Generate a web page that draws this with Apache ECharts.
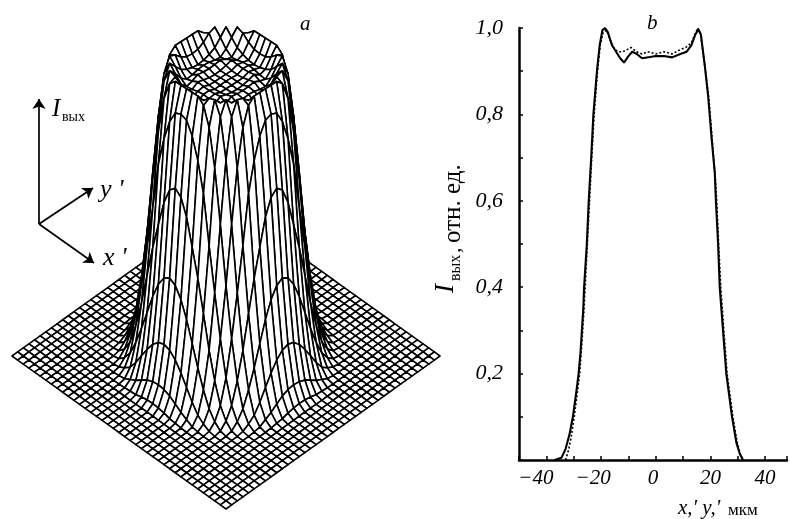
<!DOCTYPE html>
<html><head><meta charset="utf-8">
<style>html,body{margin:0;padding:0;background:#fff}#c{width:790px;height:519px}</style>
<script src="https://cdn.jsdelivr.net/npm/echarts@6/dist/echarts.min.js"></script>
</head><body><div id="c"></div>
<script>
// Panel b: measured profile (solid) and second profile (dotted)
var solidX = [-37,-34.5,-33,-31.5,-30.3,-29.2,-28.2,-27.5,-27,-26.5,-26.2,-25.2,-24.5,-23.6,-22.8,-21.5,-20.5,-19.5,-18.5,-17.5,-16,-14.5,-13,-11.6,-10,-8.6,-7,-5,-2,0,3,6,9,11.3,13,14.5,15.6,16.5,18,19.2,20.5,21.6,22,22.8,23.4,24.6,25.8,27.9,29.5,30.7,31.9];
var solidI = [0,0.005,0.025,0.06,0.1,0.15,0.2,0.25,0.3,0.35,0.4,0.5,0.6,0.7,0.8,0.9,0.96,0.995,1,0.99,0.96,0.945,0.93,0.92,0.935,0.945,0.94,0.93,0.933,0.935,0.935,0.932,0.94,0.945,0.96,0.985,0.997,0.985,0.91,0.84,0.74,0.664,0.6,0.5,0.4,0.3,0.2,0.1,0.04,0.015,0];
var dottedX = [-33,-32,-31,-29.8,-28.8,-27.8,-27,-26.4,-25.8,-25,-24.2,-23.4,-22.5,-21.3,-20.3,-19.2,-18,-16.5,-15,-13.5,-12,-10.5,-9,-7,-5,-3,0,3,6,9,11,13,14.3,15.4,16.4,18.2,19.5,20.8,21.8,22.3,23,23.8,24.9,26.1,28.2,29.8,31,32];
var dottedI = [0,0.02,0.05,0.1,0.15,0.2,0.27,0.33,0.4,0.5,0.6,0.7,0.8,0.9,0.96,0.99,0.995,0.97,0.95,0.945,0.945,0.95,0.955,0.945,0.94,0.945,0.94,0.945,0.94,0.95,0.955,0.965,0.985,1,0.985,0.9,0.83,0.73,0.65,0.6,0.5,0.4,0.3,0.2,0.1,0.04,0.012,0];
var xTickStep = 10, yTickStep = 0.1;

// Panel a: radial beam profile, rotated about the axis
var radiusUm = [0,5,9,12,15,17,18.5,20,22,23.5,25,26,27,28,29.5,31,33,35,38,70];
var radiusI  = [0.935,0.932,0.945,0.925,0.955,0.995,0.995,0.91,0.72,0.52,0.37,0.28,0.2,0.14,0.07,0.03,0.005,0,0,0];
var meshCells = 38, meshHalfUm = 47;

// Coordinate triad of panel a
var triadArrows = [[[39,224],[39,99]],[[39,224],[93,188]],[[39,224],[94,263]]];

function profileAt(r){
  for(var k=1;k<radiusUm.length;k++){
    if(r<=radiusUm[k]){
      var t=(r-radiusUm[k-1])/(radiusUm[k]-radiusUm[k-1]);
      return radiusI[k-1]+t*(radiusI[k]-radiusI[k-1]);
    }
  }
  return 0;
}
function pairs(a,b){return a.map(function(v,i){return [v,b[i]];});}

// Projection of the mesh node (i,j) onto the hidden page-sized axes
var view={cx:226,cy:356,sx:107,sy:76.5,hz:294,squeeze:0.1};
function project(i,j){
  var u=2*i/meshCells-1, v=2*j/meshCells-1;
  var h=profileAt(Math.sqrt(u*u+v*v)*meshHalfUm);
  return [view.cx+view.sx*(u+v), view.cy+view.sy*(1-view.squeeze*h)*(u-v)-view.hz*h];
}
// Cells painted back to front so that nearer cells hide farther ones
var cells=[];
for(var i=0;i<meshCells;i++)for(var j=0;j<meshCells;j++)cells.push([i,j]);
cells.sort(function(a,b){return (a[0]-a[1])-(b[0]-b[1]);});

var serif='"Liberation Serif","DejaVu Serif",serif';
function xLabel(v){
  if(v%20!==0) return '';
  var s=String(Math.abs(v));
  if(v===-40) return '\u2212'+s+'    ';
  if(v===-20) return '\u2212'+s+'   ';
  if(v===0) return s+' ';
  return s;
}
function vText(text,x,y,size,italic){
  return {type:'text',x:x,y:y,rotation:Math.PI/2,style:{text:text,fontFamily:serif,
    fontStyle:italic?'italic':'normal',fontSize:size,fill:'#000',align:'left',verticalAlign:'bottom'}};
}
var chart=echarts.init(document.getElementById('c'),null,{renderer:'canvas'});
chart.setOption({
  animation:false,
  backgroundColor:'#fff',
  title:[
    {text:'a',left:295,top:9,textStyle:{fontFamily:serif,fontStyle:'italic',fontWeight:'normal',fontSize:21,color:'#000'}},
    {text:'b',left:642,top:8,textStyle:{fontFamily:serif,fontStyle:'italic',fontWeight:'normal',fontSize:21,color:'#000'}}
  ],
  grid:[
    {left:519,top:28,width:271,height:432,containLabel:false},
    {left:0,top:0,width:790,height:519,show:false}
  ],
  xAxis:[
    {type:'value',gridIndex:0,min:-50,max:48,interval:xTickStep,splitLine:{show:false},
     axisLine:{onZero:false,lineStyle:{color:'#000',width:2.5}},
     axisTick:{inside:true,length:4,lineStyle:{color:'#000',width:1.5}},
     axisLabel:{margin:8,fontFamily:serif,fontStyle:'italic',fontSize:21,color:'#000',showMinLabel:true,formatter:xLabel}},
    {type:'value',gridIndex:1,min:0,max:790,show:false}
  ],
  yAxis:[
    {type:'value',gridIndex:0,min:0,max:1,interval:yTickStep,splitLine:{show:false},
     axisLine:{onZero:false,lineStyle:{color:'#000',width:2.5}},
     axisTick:{inside:true,length:4,lineStyle:{color:'#000',width:1.5}},
     axisLabel:{margin:16,fontFamily:serif,fontStyle:'italic',fontSize:22,color:'#000',
       formatter:function(v){var t=Math.round(v*10);return (t>0&&t%2===0)?v.toFixed(1).replace('.',','):'';}}},
    {type:'value',gridIndex:1,min:0,max:519,inverse:true,show:false}
  ],
  graphic:[
    {type:'text',x:52,y:97,style:{text:'I',fontFamily:serif,fontStyle:'italic',fontSize:25,fill:'#000'}},
    {type:'text',x:62,y:110,style:{text:'\u0432\u044b\u0445',fontFamily:serif,fontSize:14,fill:'#000'}},
    {type:'text',x:100,y:177,style:{text:"y '",fontFamily:serif,fontStyle:'italic',fontSize:26,fill:'#000'}},
    {type:'text',x:103,y:245,style:{text:"x '",fontFamily:serif,fontStyle:'italic',fontSize:26,fill:'#000'}},
    {type:'text',x:678,y:498,style:{text:"x,' y,'",fontFamily:serif,fontStyle:'italic',fontSize:21,fill:'#000'}},
    {type:'text',x:728,y:502,style:{text:"\u043c\u043a\u043c",fontFamily:serif,fontSize:17,fill:'#000'}},
    vText('I',459,293,27,true),
    vText('\u0432\u044b\u0445',464,281,16,false),
    vText(',',465,253,22,false),
    vText('\u043e\u0442\u043d. \u0435\u0434.',466,243,25,false)
  ],
  series:[
    {type:'custom',xAxisIndex:1,yAxisIndex:1,data:cells,progressive:0,clip:false,silent:true,
     encode:{x:0,y:1},
     renderItem:function(params,api){
       var i=api.value(0),j=api.value(1);
       var pts=[[i,j],[i+1,j],[i+1,j+1],[i,j+1]].map(function(n){
         return api.coord(project(n[0],n[1]));});
       return {type:'polygon',shape:{points:pts},
         style:{fill:'#fff',stroke:'#000',lineWidth:1.6,lineJoin:'round'}};
     }},
    {type:'lines',coordinateSystem:'cartesian2d',xAxisIndex:1,yAxisIndex:1,silent:true,
     symbol:['none','arrow'],symbolSize:10,polyline:false,
     lineStyle:{color:'#000',width:1.7,opacity:1},
     data:triadArrows.map(function(c){return {coords:c};})},
    {type:'line',name:'dotted',xAxisIndex:0,yAxisIndex:0,data:pairs(dottedX,dottedI),showSymbol:false,
     lineStyle:{color:'#000',width:1.6,type:[2,2]},silent:true},
    {type:'line',name:'solid',xAxisIndex:0,yAxisIndex:0,data:pairs(solidX,solidI),showSymbol:false,
     lineStyle:{color:'#000',width:2.1},silent:true}
  ]
});
</script></body></html>
